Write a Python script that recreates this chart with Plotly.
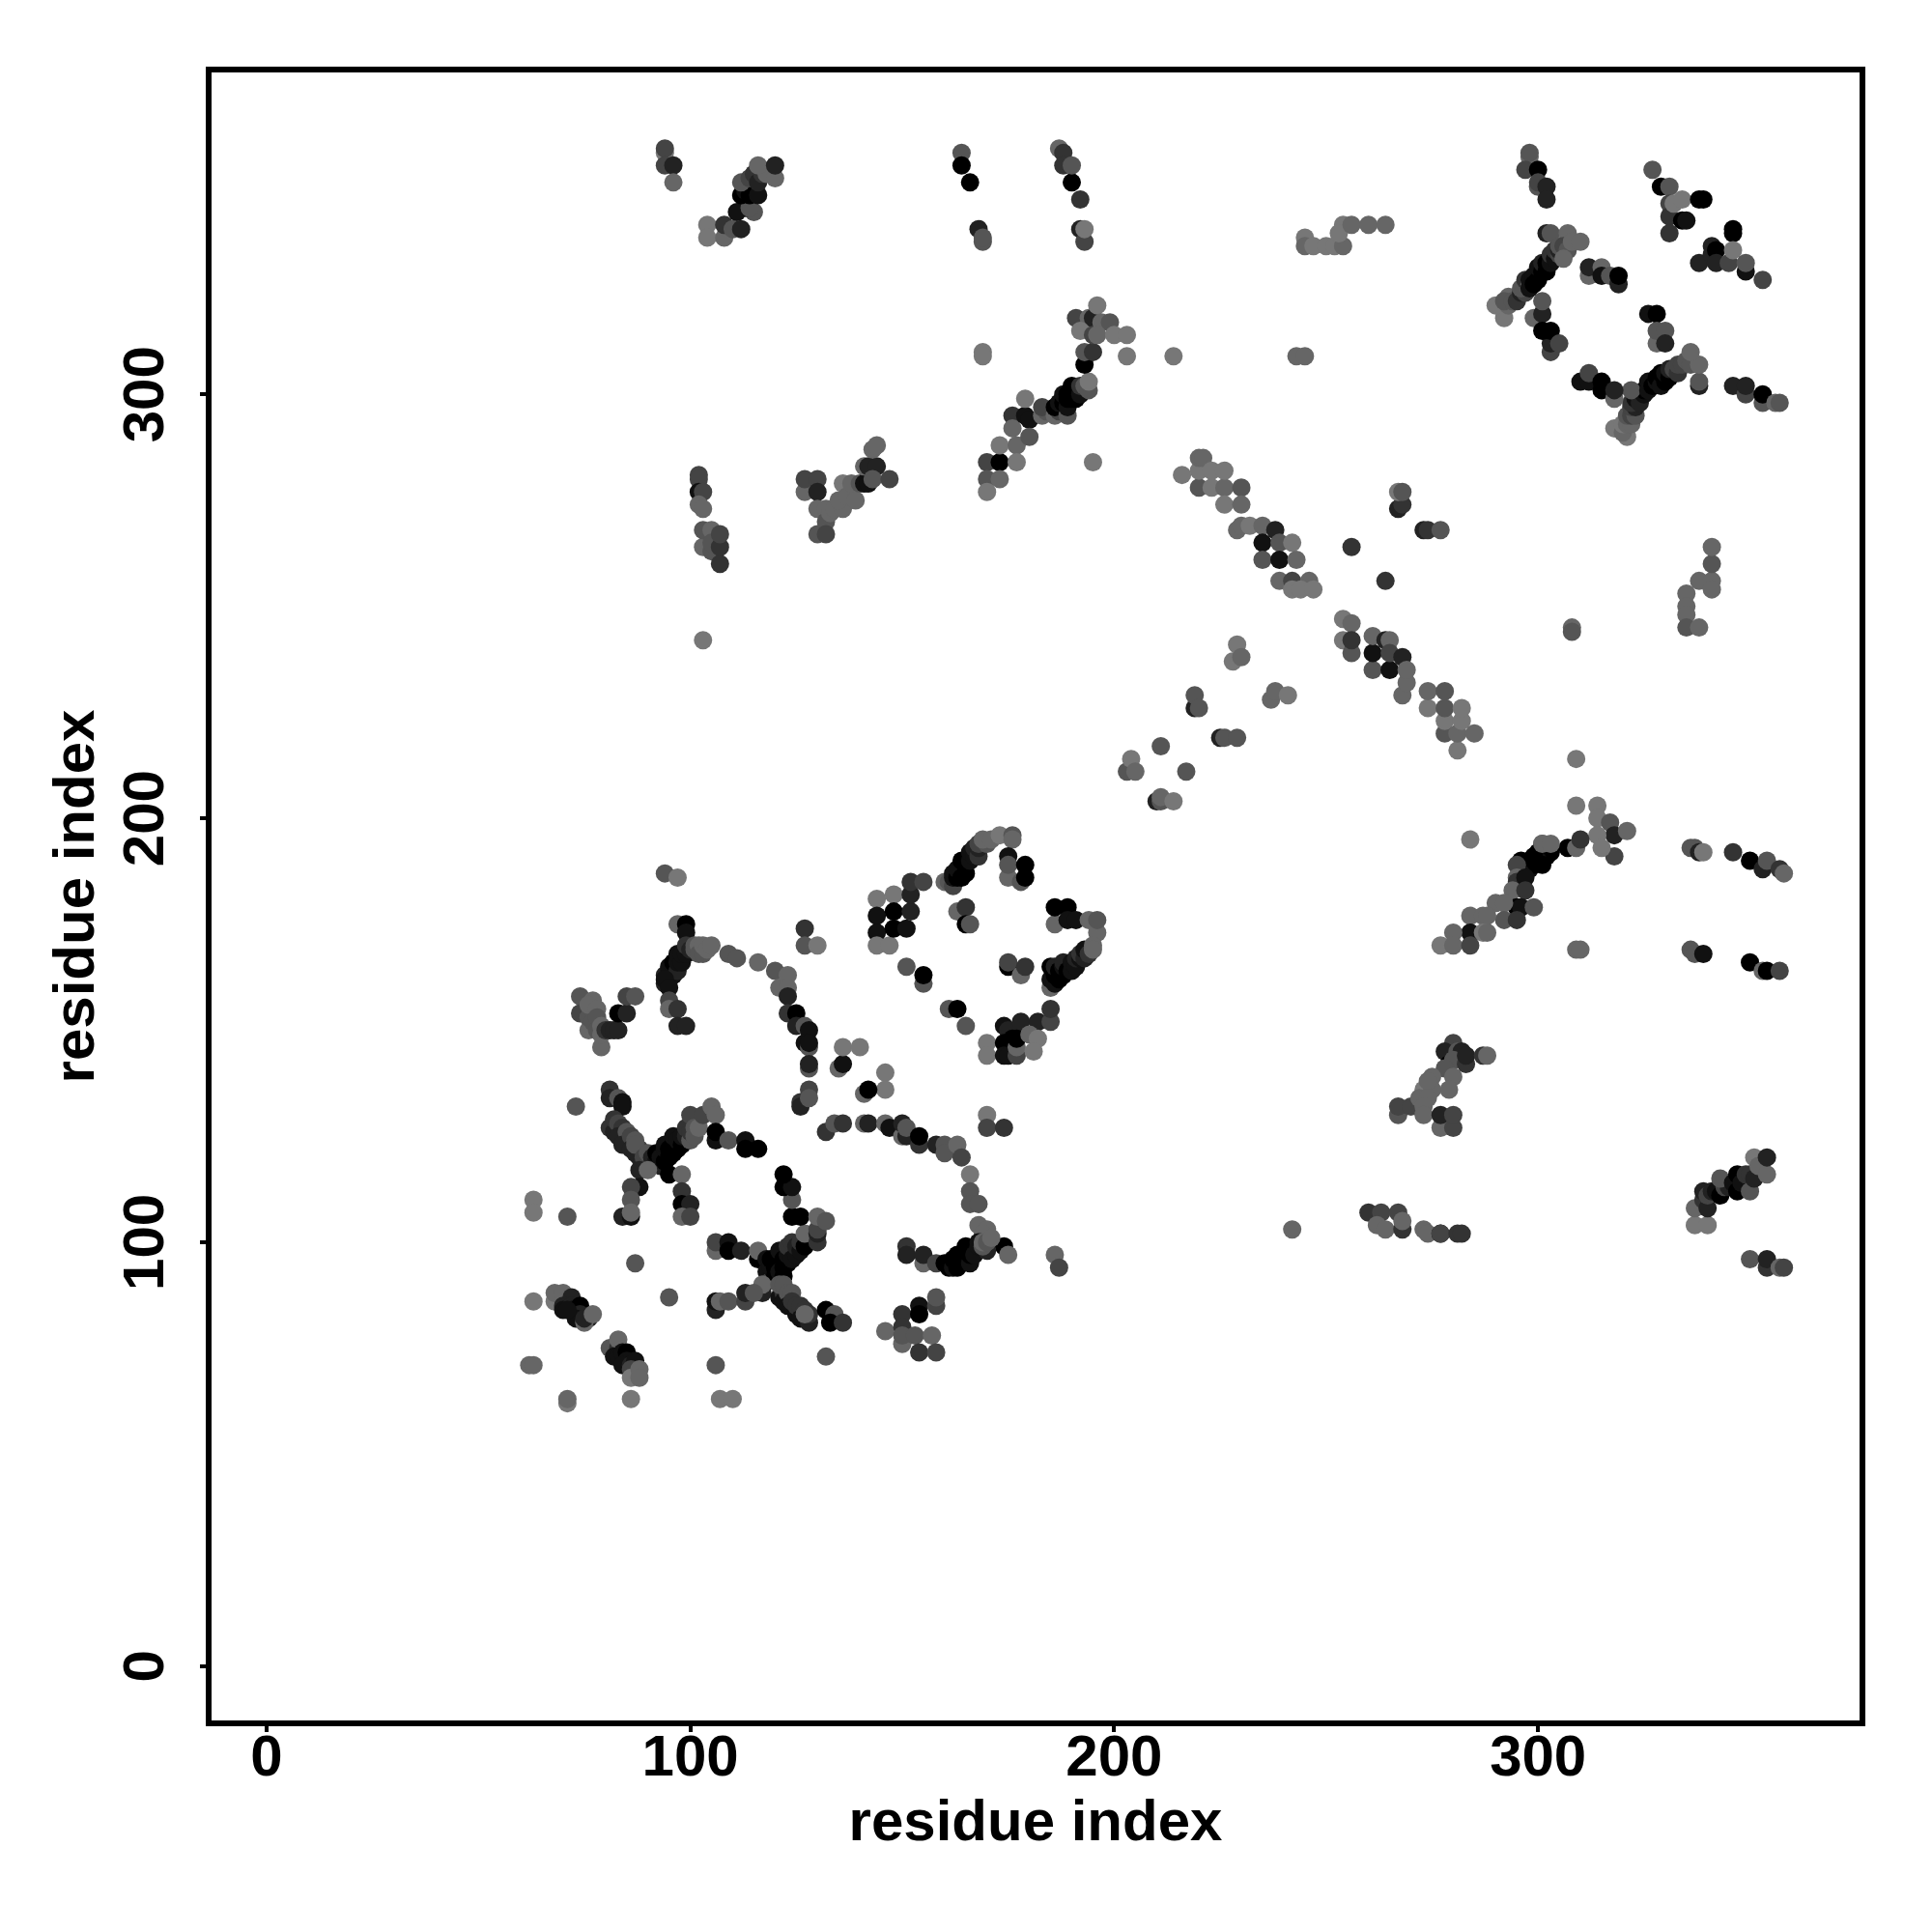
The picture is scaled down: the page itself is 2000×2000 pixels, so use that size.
import plotly.graph_objects as go

# contacts: (residue i, residue j, gray step)
cluster_left_top = [(74,158,5),(74,154,4),(77,157,6),(76,150,6),(76,153,5),(76,156,6),(78,155,6),(77,152,5),(78,153,5),(79,146,6),(78,150,5),(79,151,6),(79,149,6),(80,150,3),(81,150,2),(82,150,2),(83,150,2),(83,154,0),(85,154,2),(85,158,4),(87,158,5)]
cluster_chain = [(94,187,5),(97,186,7),(97,175,6),(99,175,0),(99,173,1),(94,163,2),(94,161,2),(95,162,0),(95,164,1),(96,163,1),(95,165,1),(96,165,1),(96,166,0),(97,164,2),(97,166,1),(97,168,1),(98,166,1),(98,168,1),(99,168,1),(99,170,3),(100,169,2),(94,162,1),(95,160,1),(95,157,4),(95,155,6),(97,155,3),(97,151,2),(99,151,2),(101,169,5),(101,170,5),(102,170,6),(102,168,5),(103,168,5),(103,170,6),(104,169,6),(105,170,6),(109,168,5),(111,167,5),(116,166,6),(120,164,5),(123,163,6),(121,160,6),(123,160,6),(123,158,2),(123,154,3),(125,154,0),(125,151,2),(127,151,5),(128,150,1),(127,147,1),(128,146,5),(128,147,1),(128,141,5),(128,142,2),(126,133,3),(126,132,2),(128,136,4),(128,134,5)]
cluster_upper_scatter = [(135,141,6),(136,142,1),(136,146,7),(140,146,7),(146,140,7),(146,136,7),(141,135,6),(142,136,0),(151,165,5),(155,161,5),(155,163,0),(161,155,5),(163,155,0),(165,151,5)]
cluster_arc = [(132,126,3),(134,128,5),(136,128,3),(141,128,6),(142,128,2),(146,128,6),(147,127,1),(150,125,6),(150,128,2),(151,125,2),(151,127,5),(154,123,3),(154,125,0),(158,123,2),(160,123,5),(160,121,5),(163,123,6),(164,120,4),(166,116,7),(166,112,5),(166,109,5),(168,109,5),(168,104,6),(170,103,6),(169,102,6),(174,99,0),(175,97,6),(186,97,6),(187,94,4)]
cluster_lower_arc = [(151,99,3),(151,97,2),(155,95,6),(155,97,2),(158,95,4),(160,95,0),(161,94,0),(162,94,1),(162,96,0),(163,94,0),(164,95,0),(164,96,0),(163,97,0),(165,97,0),(165,99,0),(166,95,1),(166,97,0),(167,98,0),(167,97,1),(168,99,1),(168,100,1),(170,98,2),(169,99,5),(169,100,6),(170,100,5),(171,101,6)]
cluster_x_upper = [(73,132,5),(81,136,3),(81,134,2),(83,134,5),(84,133,1),(84,132,1),(81,127,3),(82,126,2),(82,129,3),(83,128,4),(84,127,3),(83,125,2),(85,124,3),(85,126,5),(84,123,2),(86,125,4),(86,122,2),(87,121,2),(88,122,4),(87,124,5),(88,120,2),(87,123,5),(89,120,4),(90,121,5),(91,120,2),(92,119,1),(92,121,0),(93,118,2),(93,120,1),(94,119,0),(94,122,1),(94,123,1),(95,120,0),(95,122,0),(96,121,0),(96,123,0),(96,125,1),(97,122,0),(97,124,1),(98,123,0),(98,125,1),(99,125,2),(99,127,3),(100,124,5),(100,126,3),(100,130,4),(101,127,5),(101,125,5),(102,127,6),(103,130,4),(105,132,6),(106,130,6),(106,124,1),(106,126,0),(109,124,5),(113,124,1),(113,122,0),(116,122,0),(88,117,2),(90,117,6),(88,113,1),(86,113,4),(86,110,5),(84,106,2),(86,106,1),(86,107,6),(95,116,0),(98,116,6),(98,112,3),(98,109,0),(100,109,2),(98,106,6),(100,106,4)]
cluster_left_low = [(63,110,7),(63,107,7),(71,106,5),(87,95,5),(95,87,5),(63,86,7),(68,86,7),(68,88,6),(70,88,6),(72,87,2),(70,85,2),(70,84,1),(72,85,2),(72,84,1),(74,85,0),(74,83,2),(73,82,1),(71,84,1),(76,82,2),(75,81,6),(75,82,2),(77,83,6),(81,75,5),(83,75,3),(83,77,6),(82,73,1),(83,73,1),(84,74,1),(85,74,0),(85,72,1),(84,71,1),(86,71,2),(87,72,1),(86,70,4),(86,68,7),(88,70,6),(88,68,6),(62,71,6),(63,71,6),(71,62,7),(71,63,6),(86,63,7),(106,71,5),(107,63,7),(110,63,7),(132,73,5)]
cluster_x_lower = [(106,98,6),(106,100,4),(109,100,1),(109,98,0),(112,98,2),(116,96,0),(116,98,6),(118,96,1),(118,93,1),(119,91,4),(119,94,1),(119,96,0),(120,94,0),(120,92,0),(120,96,0),(121,95,0),(121,98,1),(121,93,1),(122,94,0),(122,96,0),(122,92,0),(123,95,0),(123,97,1),(123,99,3),(124,96,1),(124,100,3),(125,97,1),(125,99,2),(126,98,1),(126,100,3),(127,99,0),(127,102,6),(130,100,3),(130,102,2),(124,106,0),(126,106,0),(124,110,5),(122,113,0),(124,113,1),(122,116,0),(130,103,4),(130,106,6),(132,105,5),(117,88,2),(117,90,6),(121,87,1),(122,88,3),(122,86,1),(121,90,5),(122,90,5),(123,88,5),(124,88,5),(123,85,1),(124,86,3),(125,83,1),(125,85,3),(126,85,3),(126,82,1),(127,84,3),(128,81,2),(128,83,3),(127,83,6),(132,84,0),(134,83,5),(133,81,0),(136,81,3),(106,84,2),(106,86,1),(107,86,6),(109,86,5),(113,86,4),(113,88,2),(115,88,5)]
cluster_bottom = [(146,79,6),(150,83,3),(150,80,3),(150,76,6),(150,78,5),(154,85,1),(154,83,0),(158,85,4),(158,87,5),(153,78,5),(154,74,3),(157,78,6),(158,74,4)]
cluster_diamond = [(127,174,3),(127,170,5),(130,170,7),(144,181,7),(148,182,7),(144,177,1),(144,173,1),(144,170,7),(147,170,7),(148,178,0),(148,174,0),(151,174,1),(152,178,2),(152,182,2),(152,185,3),(155,185,4),(160,185,6),(161,185,5),(162,184,4),(162,186,1),(162,187,1),(163,186,0),(163,188,1),(164,186,0),(164,190,0),(165,187,0),(165,189,0),(166,190,1),(166,192,1),(167,191,1),(167,193,2),(168,191,3),(168,193,2),(168,194,4),(170,194,5),(169,195,6),(171,195,6),(173,196,7),(176,196,5),(176,195,6),(175,191,1),(175,186,6),(175,189,5),(179,189,0),(178,185,5),(179,186,0),(163,178,6),(165,179,3),(165,175,0),(166,175,5),(186,175,6),(186,179,0),(189,179,0),(189,176,1),(191,176,1),(194,176,6),(196,173,6),(196,176,5),(185,160,6),(185,162,1),(185,165,0),(186,161,1),(186,163,0),(186,165,2),(187,162,0),(187,164,0),(188,163,0),(188,165,1),(188,166,2),(189,164,0),(190,164,1),(190,166,1),(191,165,1),(191,167,2),(192,167,1),(192,168,3),(193,167,2),(193,169,1),(194,168,3),(195,170,6),(195,169,6),(175,165,0),(175,166,4),(178,163,6),(179,165,3),(170,147,7),(170,144,7),(174,151,1),(175,150,2),(174,147,0),(174,144,1),(175,144,1),(176,148,0),(178,152,2),(177,144,4),(177,146,6),(177,148,0),(182,152,2),(180,149,6),(182,148,7),(181,145,7),(185,152,4),(185,155,3),(170,130,7),(170,127,4),(174,127,3)]
cluster_top_left = [(94,357,7),(94,358,4),(94,354,4),(96,354,2),(96,350,6),(104,340,7),(104,337,7),(108,337,6),(108,340,3),(110,339,5),(112,339,2),(115,343,5),(113,344,1),(111,343,1),(114,344,5),(112,347,0),(113,348,1),(114,347,0),(116,347,1),(112,350,5),(114,351,4),(115,352,3),(116,350,2),(117,352,3),(118,352,6),(116,354,6),(120,351,6),(120,354,2),(164,357,5),(164,354,0),(166,350,0),(168,339,2),(169,336,5),(169,337,5),(187,358,6),(188,357,3),(188,354,3),(190,350,0),(190,354,5),(192,346,3),(192,339,2),(193,336,4),(193,339,7)]
cluster_helix_a = [(102,281,4),(102,280,4),(102,277,1),(103,277,4),(102,274,6),(103,273,6),(103,264,6),(103,268,5),(105,268,6),(105,263,5),(105,265,5),(107,260,3),(107,264,3),(107,267,4),(103,242,7)]
cluster_helix_b = [(127,277,6),(127,280,4),(130,280,4),(130,277,2),(130,273,6),(132,273,6),(132,270,5),(130,267,5),(132,267,4),(133,272,6),(134,273,6),(136,273,6),(135,275,6),(136,279,7),(137,276,6),(139,275,6),(138,279,6),(140,279,5),(141,279,1),(142,280,1),(142,279,1),(141,283,6),(142,283,2),(144,283,2),(143,287,6),(144,288,6),(143,280,5),(147,280,4)]
cluster_diag_c = [(169,310,7),(169,309,7),(170,284,4),(173,284,0),(170,280,5),(173,280,6),(170,277,7),(173,288,7),(177,288,6),(177,284,7),(176,295,3),(176,292,6),(179,295,1),(179,299,7),(180,294,1),(180,290,5),(183,295,6),(184,296,5),(183,297,4),(186,295,6),(187,296,4),(186,297,0),(187,298,1),(188,298,0),(189,295,5),(188,300,1),(189,297,1),(189,299,0),(189,300,0),(190,299,0),(190,300,0),(190,302,0),(191,301,0),(191,299,0),(192,300,1),(192,302,3),(193,302,5),(194,301,5),(194,303,7),(195,284,7),(193,307,0),(193,310,5),(195,310,3),(203,309,7),(191,318,4),(194,318,6),(195,318,2),(196,321,7),(192,315,7),(195,314,4),(197,317,6),(199,317,5),(196,314,6),(200,314,7),(203,314,7),(214,309,7),(243,309,6),(245,309,6)]
cluster_top_mid = [(245,337,7),(245,335,6),(247,335,7),(250,335,7),(252,335,7),(254,335,6),(254,340,7),(253,338,7),(256,340,6),(260,340,6),(264,340,6)]
cluster_upper_right = [(298,356,6),(298,357,5),(297,353,4),(300,353,0),(300,349,5),(300,350,4),(302,349,2),(302,346,2),(302,338,2),(303,338,5),(307,338,6),(292,318,7),(290,321,7),(293,323,6),(293,321,6),(292,322,5),(294,322,5),(295,322,3),(296,324,2),(297,324,4),(296,325,5),(297,327,3),(298,326,6),(298,327,1),(298,325,1),(299,328,1),(299,326,0),(300,327,0),(300,330,1),(301,329,0),(301,331,2),(302,329,0),(302,331,0),(303,331,1),(303,333,3),(304,332,1),(304,334,3),(305,333,4),(305,334,2),(305,335,5),(306,335,4),(307,334,5),(306,332,6),(308,336,6),(310,336,6),(299,318,6),(301,319,2),(301,322,5),(303,310,4),(303,312,2),(301,315,0),(303,315,0),(305,312,4),(312,328,6),(312,330,2),(315,330,6),(315,328,1),(317,328,5),(319,326,2),(319,328,0),(327,353,5),(329,349,0),(331,349,5),(331,345,4),(331,342,3),(331,338,3),(334,341,0),(335,341,1),(332,345,7),(334,346,7),(338,346,0),(339,346,0),(346,339,0),(346,338,0),(338,331,2),(341,335,2),(341,333,2),(342,334,0),(342,331,2),(345,331,4),(346,334,7),(349,329,1),(349,331,5),(353,327,4),(326,319,1),(328,319,0),(328,312,6),(328,315,5),(330,315,5),(330,312,2)]
cluster_upper_right_low = [(318,292,7),(321,290,7),(320,291,6),(320,293,7),(321,293,6),(322,293,6),(321,295,5),(322,295,4),(323,295,5),(322,297,4),(323,297,2),(322,298,3),(323,299,1),(324,298,2),(325,300,1),(325,301,0),(322,301,5),(326,301,1),(326,303,1),(327,302,0),(328,303,1),(328,304,0),(329,302,1),(329,305,0),(330,303,0),(330,305,1),(331,304,0),(331,306,2),(332,306,4),(333,305,3),(333,307,4),(334,307,4),(335,308,5),(336,307,5),(338,302,2),(338,303,5),(338,307,6),(336,310,6),(310,303,1),(312,303,1),(312,305,4),(315,301,0),(315,303,0),(318,299,6),(318,301,2),(346,302,2),(349,300,4),(349,302,2),(353,298,5),(353,300,0),(356,298,6),(357,298,5)]
cluster_diag_d = [(216,281,7),(220,278,5),(220,282,7),(220,285,6),(221,285,6),(223,278,7),(223,282,7),(226,278,6),(226,282,7),(230,278,5),(226,274,7),(230,274,6),(229,268,6),(230,269,6),(232,269,7),(235,269,6),(238,268,2),(235,265,1),(239,265,5),(242,265,7),(235,261,5),(239,261,1),(243,261,6),(239,256,6),(242,256,4),(246,256,6),(242,254,7),(244,254,7),(247,254,7),(256,264,3),(264,256,3),(267,273,2),(268,274,3),(267,277,7),(268,277,5),(273,268,2),(274,268,3),(277,268,5)]
cluster_diag_e = [(254,247,7),(256,246,6),(254,242,7),(256,239,5),(256,242,3),(261,235,5),(261,239,1),(261,243,6),(264,242,2),(265,242,6),(265,235,1),(265,239,4),(268,238,2),(268,229,6),(269,232,6),(269,235,6),(274,226,7),(274,230,6),(278,220,5),(278,223,7),(278,226,5),(278,230,5),(281,216,7),(281,220,6),(282,223,7),(282,226,7),(285,220,6)]
cluster_backbone = [(228,237,7),(229,241,7),(230,238,6),(237,228,6),(238,230,6),(241,229,7),(219,226,2),(219,229,5),(220,226,5),(225,219,2),(226,219,5),(229,219,5),(211,217,5),(217,211,5),(203,211,5),(204,214,7),(205,211,6),(210,204,2),(211,204,5),(211,205,6),(214,204,7)]
cluster_right_mid = [(309,214,7),(309,203,7),(314,203,7),(284,195,7),(314,200,7),(317,199,5),(318,191,4),(318,196,2),(321,197,6),(314,196,7),(315,193,7),(307,193,0),(309,193,6),(310,195,3),(301,194,5),(303,192,0),(302,193,0),(302,191,0),(300,192,0),(300,190,1),(299,191,0),(298,190,0),(298,188,1),(299,189,0),(301,189,0),(296,190,0),(297,189,0),(297,188,0),(296,187,1),(295,189,4),(295,186,6),(295,185,3),(297,186,1),(301,194,6),(303,194,6),(294,183,6),(297,183,3),(295,179,0),(296,179,1),(299,179,5),(290,180,6),(292,180,6),(292,176,5),(295,176,3),(284,177,6),(287,177,6),(288,177,6),(284,173,1),(287,173,7),(288,173,6),(280,173,6),(277,170,7),(280,170,6),(284,170,4),(309,169,6),(310,169,6)]
cluster_right_edges = [(336,193,5),(337,193,5),(338,192,2),(339,192,7),(346,192,3),(350,190,0),(353,188,2),(354,190,5),(357,188,3),(358,187,6),(336,169,5),(337,168,5),(339,168,1),(350,166,0),(353,164,6),(354,164,0),(357,164,4),(335,253,6),(335,250,6),(335,248,6),(335,245,5),(338,245,6),(338,256,6),(341,256,6),(341,254,6),(341,260,5),(341,264,6),(308,245,6),(308,244,5)]
cluster_mid_low = [(280,147,4),(278,145,2),(279,142,0),(281,145,5),(282,145,2),(280,143,5),(278,141,5),(283,142,3),(283,144,2),(287,144,3),(288,144,6),(280,139,6),(275,139,6),(279,136,6),(273,136,7),(275,136,6),(274,138,6),(267,130,5),(267,132,4),(270,132,4),(272,134,6),(274,134,6),(273,132,6),(273,130,6),(277,127,6),(277,130,2),(280,127,4),(280,130,4)]
cluster_bottom_right = [(242,103,6),(260,107,3),(263,107,4),(262,104,6),(264,103,6),(267,107,4),(268,103,3),(268,105,6),(273,103,6),(274,102,6),(277,102,1),(277,102,4),(281,102,3),(282,102,3),(337,104,7),(340,104,7),(337,108,6),(339,110,3),(340,108,2),(339,112,2),(340,111,4),(341,112,2),(342,112,1),(343,111,0),(344,113,4),(345,113,2),(343,115,5),(346,114,1),(347,112,0),(347,116,0),(348,114,1),(349,116,3),(350,116,3),(350,112,5),(351,115,2),(351,120,7),(352,118,6),(354,116,6),(354,120,2),(350,96,5),(354,94,3),(354,96,2),(357,94,6),(358,94,4)]

clusters = [cluster_left_top, cluster_chain, cluster_upper_scatter, cluster_arc, cluster_lower_arc,
            cluster_x_upper, cluster_left_low, cluster_x_lower, cluster_bottom, cluster_diamond,
            cluster_top_left, cluster_helix_a, cluster_helix_b, cluster_diag_c, cluster_top_mid,
            cluster_upper_right, cluster_upper_right_low, cluster_diag_d, cluster_diag_e,
            cluster_backbone, cluster_right_mid, cluster_right_edges, cluster_mid_low, cluster_bottom_right]

points = [p for c in clusters for p in c]
x_vals = [p[0] for p in points]
y_vals = [p[1] for p in points]
grays = [f"rgb({p[2]*17},{p[2]*17},{p[2]*17})" for p in points]

tick_vals = [0, 100, 200, 300]
tick_text = ["0", "100", "200", "300"]
FONT = "Liberation Sans"
text_font = dict(family=FONT, size=60, color="black", weight="bold")

fig = go.Figure(go.Scatter(x=x_vals, y=y_vals, mode="markers",
                           marker=dict(size=19, color=grays, line=dict(width=0)),
                           showlegend=False))
axis = dict(tickmode="array", tickvals=tick_vals, ticktext=tick_text,
            ticks="outside", ticklen=6, tickwidth=4, tickcolor="black",
            showline=True, linecolor="black", linewidth=6, mirror=True,
            showgrid=False, zeroline=False, tickfont=text_font)
fig.update_xaxes(**axis, range=[-12.95, 375.85], ticklabelstandoff=-27, automargin=True,
                 title=dict(text="residue index", standoff=6, font=text_font))
fig.update_yaxes(**axis, range=[-12.83, 375.95], tickangle=-90, ticklabelstandoff=14, ticklabelshift=9,
                 title=dict(text="residue index", standoff=0, font=text_font))
fig.update_layout(width=2000, height=2000, autosize=False, paper_bgcolor="white", plot_bgcolor="white",
                  margin=dict(l=211, r=83, t=67, b=227, autoexpand=False), showlegend=False)
fig.write_html("out.html")
